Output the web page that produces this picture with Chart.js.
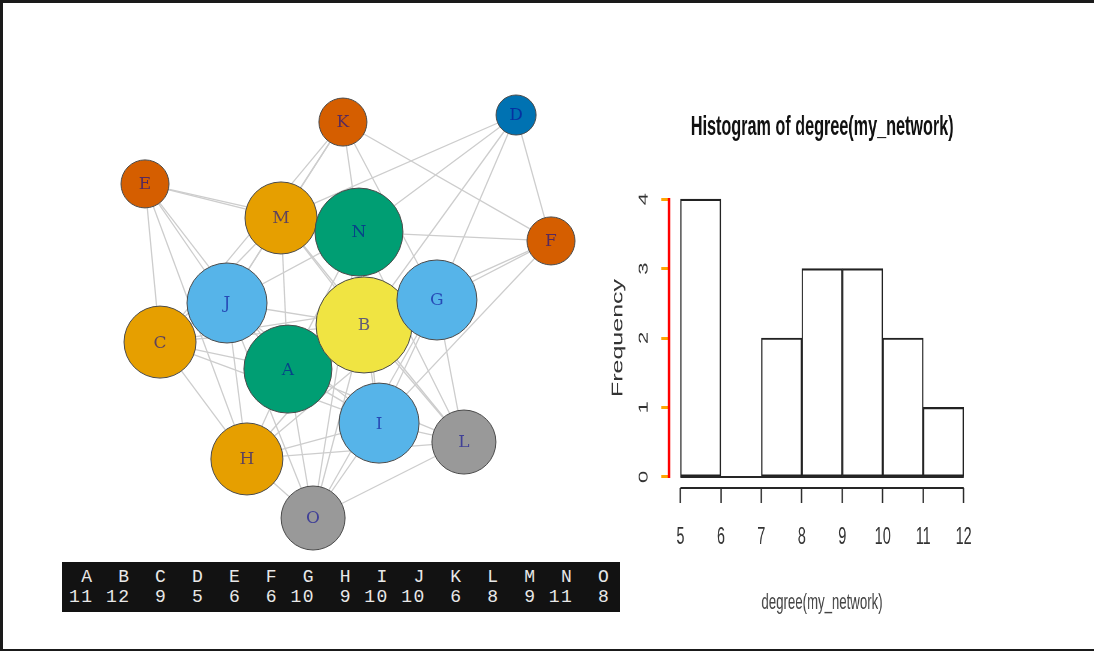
<!DOCTYPE html>
<html>
<head>
<meta charset="utf-8">
<script src="https://cdn.jsdelivr.net/npm/chart.js@4.4.0/dist/chart.umd.min.js"></script>
<style>
body{margin:0;background:#fff;width:1094px;height:652px;overflow:hidden;position:relative}
#frame{position:absolute;left:0;top:0;width:1094px;height:651px;border-top:3px solid #1a1a1a;border-left:3px solid #1a1a1a;border-bottom:2px solid #1a1a1a;box-sizing:border-box;pointer-events:none}
#netBox{position:absolute;left:0;top:0;width:600px;height:560px}
#histBox{position:absolute;left:590px;top:90px;width:774px;height:560px;transform:scaleX(0.6);transform-origin:0 0}
#degTable{position:absolute;left:62px;top:562px;width:558px;height:50px;background:#121212;color:#e8e8e8;font-family:"Liberation Mono","DejaVu Sans Mono",monospace;font-size:18px;line-height:20px;margin:0;padding:5px 0 0 7px;box-sizing:border-box;letter-spacing:1.5px;white-space:pre}
</style>
</head>
<body>
<div id="netBox"><canvas id="netChart" width="600" height="560"></canvas></div>
<pre id="degTable"></pre>
<div id="histBox"><canvas id="histChart" width="774" height="560"></canvas></div>
<div id="frame"></div>
<script>
// network data
const nodeNames = ['A','B','C','D','E','F','G','H','I','J','K','L','M','N','O'];
const nodeDegree = [11,12,9,5,6,6,10,9,10,10,6,8,9,11,8];
const nodeColor = ['#009E73','#F0E442','#E69F00','#0072B2','#D55E00','#D55E00','#56B4E9',
  '#E69F00','#56B4E9','#56B4E9','#D55E00','#999999','#E69F00','#009E73','#999999'];
// layout coords (rescaled to -1..1)
const layoutX = [-0.296,0.079,-0.926,0.828,-1.0,1.0,0.438,-0.498,0.153,-0.596,-0.025,0.571,-0.330,0.054,-0.172];
const layoutY = [-0.261,-0.042,-0.127,1.0,0.658,0.375,0.082,-0.707,-0.529,0.067,0.965,-0.623,0.489,0.419,-1.0];
const edgeList = [
  'D-M','D-N','D-B','D-G','D-F',
  'F-K','F-N','F-G','F-I','F-B',
  'K-G','K-N','K-J','K-M','K-C',
  'E-M','E-N','E-J','E-A','E-C','E-H',
  'L-O','L-I','L-B','L-G','L-A','L-N','L-M','L-H',
  'O-H','O-A','O-I','O-B','O-J','O-G','O-N',
  'M-N','M-B','M-J','M-C','M-A',
  'N-B','N-I','N-J','N-A',
  'B-G','B-I','B-J','B-C','B-A','B-H',
  'G-I','G-C','G-A','G-H',
  'I-J','I-C','I-A','I-H',
  'J-C','J-A','J-H',
  'C-A','C-H',
  'A-H'
];

// histogram data
const histBreaks = [5,6,7,8,9,10,11,12];
const histCounts = [4,0,2,3,3,2,1];
const xTicks = [5,6,7,8,9,10,11,12];
const yTicks = [0,1,2,3,4];

// degree table
document.getElementById('degTable').textContent =
  nodeNames.map(n => n.padStart(2)).join(' ') + '\n' +
  nodeDegree.map(d => String(d).padStart(2)).join(' ');

const idx = n => nodeNames.indexOf(n);

const edgeSets = edgeList.map(e => {
  const [a, b] = e.split('-').map(idx);
  return {
    type: 'scatter',
    showLine: true,
    data: [{x: layoutX[a], y: layoutY[a]}, {x: layoutX[b], y: layoutY[b]}],
    borderColor: '#cdcdcd',
    borderWidth: 1.3,
    pointRadius: 0,
    order: 1,
    clip: false
  };
});

const nodeSet = {
  type: 'bubble',
  data: nodeNames.map((n, i) => ({x: layoutX[i], y: layoutY[i], r: nodeDegree[i] * 4})),
  backgroundColor: nodeColor,
  borderColor: '#4a4a4a',
  borderWidth: 1,
  order: 0,
  clip: false
};

const nodeLabels = {
  id: 'nodeLabels',
  afterDatasetsDraw(chart) {
    const meta = chart.getDatasetMeta(chart.data.datasets.indexOf(nodeSet));
    const ctx = chart.ctx;
    ctx.save();
    ctx.font = '17px "DejaVu Serif", serif';
    ctx.fillStyle = 'rgba(10,10,150,0.62)';
    ctx.textAlign = 'center';
    ctx.textBaseline = 'middle';
    meta.data.forEach((pt, i) => ctx.fillText(nodeNames[i], pt.x, pt.y + 1));
    ctx.restore();
  }
};

new Chart(document.getElementById('netChart'), {
  type: 'scatter',
  data: { datasets: [nodeSet, ...edgeSets] },
  options: {
    responsive: false,
    animation: false,
    events: [],
    layout: { padding: {left: 145, right: 49, top: 115, bottom: 42}, autoPadding: false },
    scales: {
      x: { type: 'linear', min: -1, max: 1, display: false },
      y: { type: 'linear', min: -1, max: 1, display: false }
    },
    plugins: { legend: {display: false}, tooltip: {enabled: false} }
  },
  plugins: [nodeLabels]
});

// R style axis lines (only from first to last tick) + baseline
const rAxes = {
  id: 'rAxes',
  afterDraw(chart) {
    const {ctx, chartArea, scales: {x, y}} = chart;
    ctx.save();
    ctx.strokeStyle = '#262626';
    ctx.lineWidth = 2;
    ctx.beginPath();
    ctx.moveTo(x.getPixelForValue(xTicks[0]), chartArea.bottom);
    ctx.lineTo(x.getPixelForValue(xTicks[xTicks.length - 1]), chartArea.bottom);
    ctx.moveTo(x.getPixelForValue(histBreaks[0]), y.getPixelForValue(0));
    ctx.lineTo(x.getPixelForValue(histBreaks[histBreaks.length - 1]), y.getPixelForValue(0));
    ctx.stroke();
    // y axis line
    ctx.strokeStyle = '#ff0000';
    ctx.lineWidth = 4;
    ctx.beginPath();
    ctx.moveTo(chartArea.left, y.getPixelForValue(yTicks[0]) + 1);
    ctx.lineTo(chartArea.left, y.getPixelForValue(yTicks[yTicks.length - 1]) - 1);
    ctx.stroke();
    ctx.restore();
  }
};

const histFont = '"Liberation Sans", Arial, sans-serif';

new Chart(document.getElementById('histChart'), {
  type: 'bar',
  data: {
    datasets: [{
      data: histCounts.map((c, i) => ({x: (histBreaks[i] + histBreaks[i + 1]) / 2, y: c})),
      backgroundColor: '#ffffff',
      borderColor: '#222',
      borderWidth: 2.2,
      borderSkipped: false,
      barPercentage: 1,
      categoryPercentage: 1
    }]
  },
  options: {
    responsive: false,
    animation: false,
    events: [],
    layout: { padding: 0, autoPadding: false },
    scales: {
      x: {
        type: 'linear', min: 4.72, max: 12.28, offset: false,
        afterBuildTicks: s => { s.ticks = xTicks.map(v => ({value: v})); },
        afterFit: s => { s.height = 162; },
        border: {display: false},
        grid: {offset: false, drawOnChartArea: false, drawTicks: true, tickLength: 15, tickWidth: 2.4, tickColor: '#2a2a2a'},
        ticks: {font: {family: histFont, size: 24}, color: '#333', padding: 20, maxRotation: 0, autoSkip: false},
        title: {display: true, text: 'degree(my_network)', font: {family: histFont, size: 22}, color: '#444', padding: {top: 0, bottom: 34}}
      },
      y: {
        type: 'linear', min: -0.16, max: 4.16,
        afterBuildTicks: s => { s.ticks = yTicks.map(v => ({value: v})); },
        afterFit: s => { s.width = 131.7; },
        border: {display: false},
        grid: {drawOnChartArea: false, drawTicks: true, tickLength: 13, tickWidth: 3, tickColor: 'orange'},
        ticks: {font: {family: histFont, size: 22}, color: '#333', padding: 22.6, minRotation: 90, maxRotation: 90, crossAlign: 'center'},
        title: {display: true, text: 'Frequency', font: {family: histFont, size: 25}, color: '#333', padding: {top: 32.5, bottom: 0}}
      },
      yR: {
        type: 'linear', position: 'right', display: true,
        grid: {display: false}, ticks: {display: false}, border: {display: false},
        afterFit: s => { s.width = 132.3; }
      }
    },
    plugins: {
      legend: {display: false},
      tooltip: {enabled: false},
      title: {
        display: true,
        text: 'Histogram of degree(my_network)',
        font: {family: histFont, size: 27, weight: 'bold', lineHeight: 1.2},
        color: '#111',
        padding: {top: 21.8, bottom: 43.8}
      }
    }
  },
  plugins: [rAxes]
});
</script>
</body>
</html>
